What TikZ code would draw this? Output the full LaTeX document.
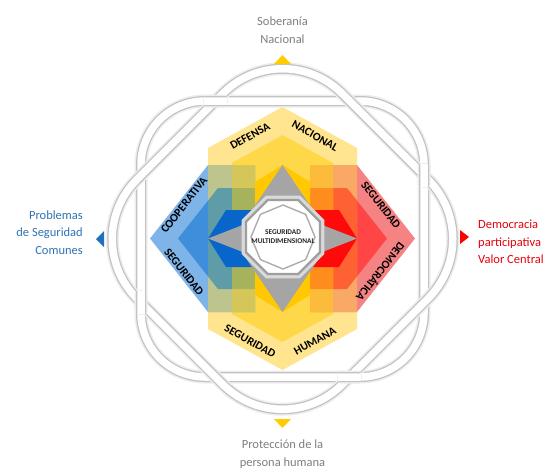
\documentclass[tikz,border=0pt]{standalone}
\usepackage{fontspec}
\setmainfont{Carlito}
\usetikzlibrary{shapes.geometric}
\definecolor{ylight}{HTML}{FFE590}
\definecolor{ymid}{HTML}{FFD84A}
\definecolor{ygold}{HTML}{FFC800}
\definecolor{blight}{HTML}{7EB4E8}
\definecolor{bmid}{HTML}{3E8EDC}
\definecolor{bdark}{HTML}{0866CA}
\definecolor{rlight}{HTML}{F58383}
\definecolor{rmid}{HTML}{FF4545}
\definecolor{rdark}{HTML}{FF0A0A}
\definecolor{mA}{HTML}{BDC48E}
\definecolor{mB}{HTML}{D5C65A}
\definecolor{mC}{HTML}{5E9CA8}
\definecolor{mD}{HTML}{A7B35C}
\definecolor{nA}{HTML}{F9A866}
\definecolor{nB}{HTML}{FDBB3C}
\definecolor{nC}{HTML}{FF6232}
\definecolor{nD}{HTML}{FF8D1E}
\definecolor{sgray}{HTML}{A5A5A5}
\definecolor{tgray}{HTML}{7F7F7F}
\definecolor{tblue}{HTML}{2E74B5}
\definecolor{tred}{HTML}{E8000B}
\definecolor{triyel}{HTML}{FFCC00}
\definecolor{triblue}{HTML}{1F6FC5}
\definecolor{trired}{HTML}{FF0000}
\newcommand{\SqRing}[1]{\draw[#1,rounded corners=64pt] (141,101) rectangle (424,377);}
\newcommand{\DiRing}[1]{\draw[#1,rounded corners=84pt,rotate around={45:(282.5,239)}] (137.5,94) rectangle (427.5,384);}
\newcommand{\AllSq}{\SqRing{shA}\SqRing{shB}\SqRing{shC}}
\newcommand{\AllDi}{\DiRing{shA}\DiRing{shB}\DiRing{shC}}
\begin{document}
\begin{tikzpicture}[x=1pt,y=-1pt,
  shA/.style={line width=13pt,draw=black!7},
  shB/.style={line width=10pt,draw=black!24},
  shC/.style={line width=7.5pt,draw=white},
  lbl/.style={font=\fontsize{11.5}{12}\selectfont\bfseries,text=black,inner sep=0pt},
  side/.style={font=\fontsize{12.5}{17.5}\selectfont,inner sep=0pt}]
\useasboundingbox (0,0) rectangle (556,471);
\fill[white] (0,0) rectangle (556,471);

% interlaced rings
\AllSq
\AllDi
\foreach \p in {(215.5,101),(424,175.4),(349.5,377),(141,302.6)}{
  \begin{scope}
    \clip \p circle (12pt);
    \AllSq
  \end{scope}
}

% yellow hexagon
\fill[ylight] (282.5,107) -- (357,148) -- (357,329) -- (282.5,370) -- (208,329) -- (208,148) -- cycle;
\fill[ymid] (282.5,135) -- (333,163) -- (333,314) -- (282.5,342) -- (232,314) -- (232,163) -- cycle;
% blue and red wings
\fill[blight] (150,238.5) -- (208,165) -- (255,165) -- (255,312) -- (208,312) -- cycle;
\fill[bmid] (178,238.5) -- (218,188) -- (255,188) -- (255,289) -- (218,289) -- cycle;
\fill[rlight] (415,238.5) -- (357,165) -- (310,165) -- (310,312) -- (357,312) -- cycle;
\fill[rmid] (387,238.5) -- (347,188) -- (310,188) -- (310,289) -- (347,289) -- cycle;
\begin{scope}
  \clip (282.5,107) -- (357,148) -- (357,329) -- (282.5,370) -- (208,329) -- (208,148) -- cycle;
  \fill[mA] (150,238.5) -- (208,165) -- (255,165) -- (255,312) -- (208,312) -- cycle;
  \fill[mC] (178,238.5) -- (218,188) -- (255,188) -- (255,289) -- (218,289) -- cycle;
  \fill[nA] (415,238.5) -- (357,165) -- (310,165) -- (310,312) -- (357,312) -- cycle;
  \fill[nC] (387,238.5) -- (347,188) -- (310,188) -- (310,289) -- (347,289) -- cycle;
\end{scope}
\begin{scope}
  \clip (282.5,135) -- (333,163) -- (333,314) -- (282.5,342) -- (232,314) -- (232,163) -- cycle;
  \fill[mB] (150,238.5) -- (208,165) -- (255,165) -- (255,312) -- (208,312) -- cycle;
  \fill[mD] (178,238.5) -- (218,188) -- (255,188) -- (255,289) -- (218,289) -- cycle;
  \fill[nB] (415,238.5) -- (357,165) -- (310,165) -- (310,312) -- (357,312) -- cycle;
  \fill[nD] (387,238.5) -- (347,188) -- (310,188) -- (310,289) -- (347,289) -- cycle;
\end{scope}
% gold core hexagon
\fill[ygold] (282.5,165) -- (310,182) -- (310,295) -- (282.5,312) -- (255,295) -- (255,182) -- cycle;
% dark arrows
\fill[bdark] (208,238.5) -- (226,210) -- (282.5,210) -- (282.5,267) -- (226,267) -- cycle;
\fill[rdark] (357,238.5) -- (339,210) -- (282.5,210) -- (282.5,267) -- (339,267) -- cycle;
% gray star: vertical and horizontal rhombi
\fill[sgray] (282.5,165) -- (332.5,238.5) -- (282.5,312) -- (232.5,238.5) -- cycle;
\fill[sgray] (208,238.5) -- (282.5,209.5) -- (357,238.5) -- (282.5,267.5) -- cycle;

% central octagon
\node[regular polygon,regular polygon sides=8,minimum size=85pt,draw=black!15,line width=4pt,inner sep=0pt] (octsh) at (283,237) {};
\node[regular polygon,regular polygon sides=8,minimum size=80pt,fill=white,draw=black!38,line width=2.2pt,inner sep=0pt] (octout) at (283,237) {};
\node[regular polygon,regular polygon sides=8,shape border rotate=22.5,minimum size=64pt,fill=white,draw=black!32,line width=1.4pt,inner sep=0pt] (octin) at (283,237) {};
\node[font=\fontsize{7.3}{8.8}\selectfont\bfseries,align=center,text=black!85,inner sep=0pt] (multi) at (283,237) {SEGURIDAD\\MULTIDIMENSIONAL};

% band labels
\node[lbl,rotate=29] (defensa) at (250,136) {DEFENSA};
\node[lbl,rotate=-29] (nacional) at (315,136) {NACIONAL};
\node[lbl,rotate=-29] (seghum) at (250,341) {SEGURIDAD};
\node[lbl,rotate=29] (humana) at (315,341) {HUMANA};
\node[lbl,rotate=52] (coop) at (184,205) {COOPERATIVA};
\node[lbl,rotate=-52] (segcoop) at (184,272) {SEGURIDAD};
\node[lbl,rotate=-52] (segdem) at (381,205) {SEGURIDAD};
\node[lbl,rotate=-128] (democ) at (381,272) {DEMOCRÁTICA};

% outer labels and markers
\node[side,text=tgray,align=center] (sob) at (282.5,30) {Soberanía\\Nacional};
\node[side,text=tgray,align=center] (prot) at (282.5,454) {Protección de la\\persona humana};
\node[side,text=tblue,align=right,anchor=east] (prob) at (83,232.5) {Problemas\\de Seguridad\\Comunes};
\node[side,text=tred,align=left,anchor=west] (dem) at (478,242) {Democracia\\participativa\\Valor Central};
\fill[triyel] (274,64) -- (282.5,55) -- (291,64) -- cycle;
\fill[triyel] (274,419) -- (282.5,428) -- (291,419) -- cycle;
\fill[triblue] (104,231) -- (96,239) -- (104,247) -- cycle;
\fill[trired] (460,230) -- (469,237) -- (460,244) -- cycle;
\end{tikzpicture}
\end{document}
